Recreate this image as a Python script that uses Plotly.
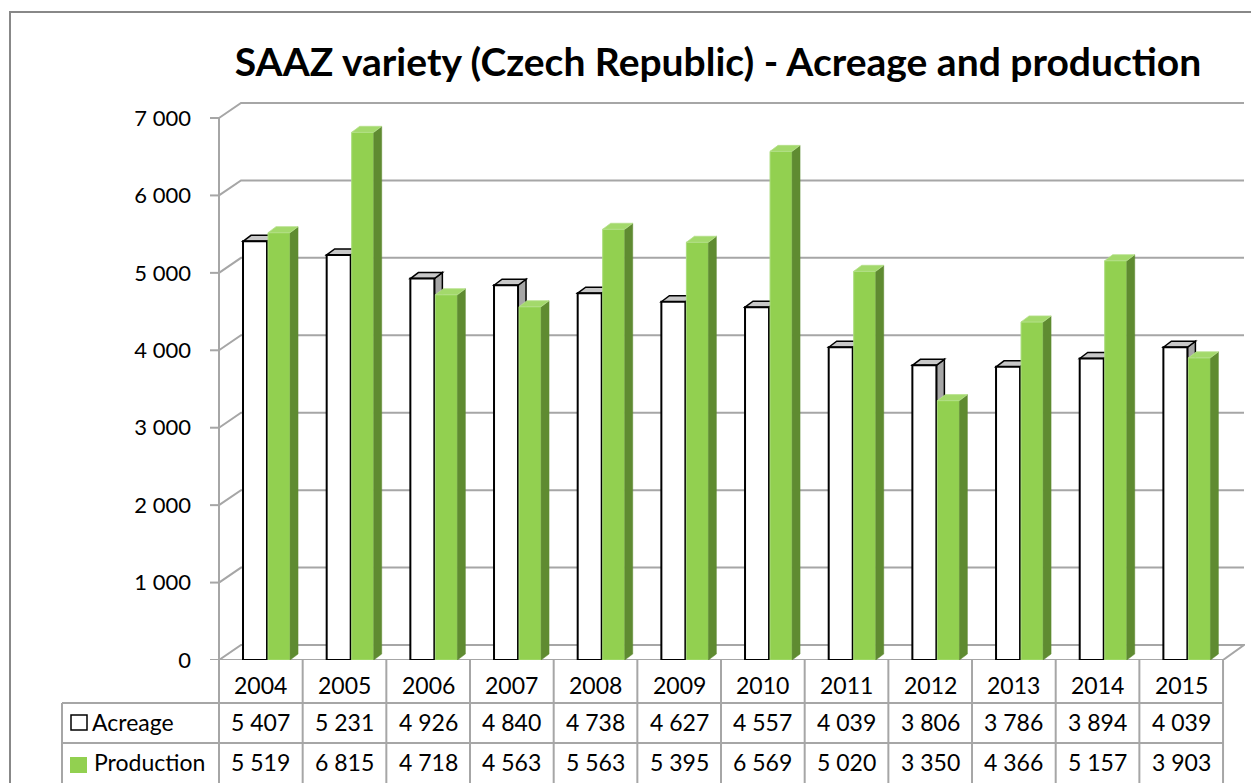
import plotly.graph_objects as go

# ---------------- data ----------------
years = ["2004", "2005", "2006", "2007", "2008", "2009",
         "2010", "2011", "2012", "2013", "2014", "2015"]
acreage = [5407, 5231, 4926, 4840, 4738, 4627, 4557, 4039, 3806, 3786, 3894, 4039]
production = [5519, 6815, 4718, 4563, 5563, 5395, 6569, 5020, 3350, 4366, 5157, 3903]
y_ticks = [0, 1000, 2000, 3000, 4000, 5000, 6000, 7000]
series_names = ["Acreage", "Production"]
title_text = "SAAZ variety (Czech Republic) - Acreage and production"

# ---------------- geometry / style ----------------
W, H = 1251, 783
PL, PR, PT, PB = 205, 1245, 100, 660          # plot area in px
COL = 83.67                                   # px per category
PXY = 542 / 7000                              # px per y unit
XA = -0.5                                     # front axis position (data x)
X0 = XA - (219 - PL) / COL
X1 = X0 + (PR - PL) / COL
Y1 = (PB - PT) / PXY
n = len(years)
X_END = XA + (1244 - 219) / COL


def dxu(p):
    return p / COL


def dyu(p):
    return p / PXY


def xp(px):
    return (px - PL) / (PR - PL)


def yp(py):
    return (PB - py) / (PB - PT)


WDX, WDY = dxu(22), dyu(15)   # wall depth
BDX, BDY = dxu(8), dyu(6)     # bar depth
OA, WA = -0.213, 0.287        # acreage bar offset / width
OP, WP = 0.086, 0.263         # production bar offset / width

GRID = "#a6a6a6"
GREEN = "#92d050"
GREEN_TOP = "#a3d96b"
GREEN_SIDE = "#5f8b31"
FONT = "Lato"

shapes = []

# back wall gridlines
for v in y_ticks[1:]:
    shapes.append(dict(type="path", xref="x", yref="y", layer="below",
                       path=f"M {XA},{v} L {XA + WDX},{v + WDY} L {X_END},{v + WDY}",
                       line=dict(color=GRID, width=2)))
# floor
shapes.append(dict(type="path", xref="x", yref="y", layer="below",
                   path=f"M {XA},0 L {XA + WDX},{WDY} L {X_END},{WDY} L {n - 0.5},0 Z",
                   line=dict(color=GRID, width=2)))
# front vertical axis + ticks
shapes.append(dict(type="line", xref="x", yref="y", layer="below",
                   x0=XA, x1=XA, y0=0, y1=y_ticks[-1], line=dict(color=GRID, width=2)))
for v in y_ticks:
    shapes.append(dict(type="line", xref="x", yref="y", layer="below",
                       x0=XA - dxu(9), x1=XA, y0=v, y1=v, line=dict(color=GRID, width=2)))

# acreage 3D faces (behind the fronts)
for i, a in enumerate(acreage):
    x0 = i + OA
    x1 = x0 + WA
    shapes.append(dict(type="path", xref="x", yref="y", layer="below",
                       path=f"M {x1},0 L {x1 + BDX},{BDY} L {x1 + BDX},{a + BDY} L {x1},{a} Z",
                       fillcolor="#a6a6a6", line=dict(color="black", width=1.5)))
    shapes.append(dict(type="path", xref="x", yref="y", layer="below",
                       path=f"M {x0},{a} L {x0 + BDX},{a + BDY} L {x1 + BDX},{a + BDY} L {x1},{a} Z",
                       fillcolor="#c8c8c8", line=dict(color="black", width=1.5)))

# production 3D faces
for i, p in enumerate(production):
    x0 = i + OP
    x1 = x0 + WP
    shapes.append(dict(type="path", xref="x", yref="y", layer="above",
                       path=f"M {x1},0 L {x1 + BDX},{BDY} L {x1 + BDX},{p + BDY} L {x1},{p} Z",
                       fillcolor=GREEN_SIDE, line=dict(color=GREEN_SIDE, width=0.5)))
    shapes.append(dict(type="path", xref="x", yref="y", layer="above",
                       path=f"M {x0},{p} L {x0 + BDX},{p + BDY} L {x1 + BDX},{p + BDY} L {x1},{p} Z",
                       fillcolor=GREEN_TOP, line=dict(color="#b5e08a", width=0.8)))

# ---------------- data table ----------------
TCOL = GRID
row_lines = [703, 743]
for ry in row_lines:
    shapes.append(dict(type="line", xref="paper", yref="paper",
                       x0=xp(62), x1=xp(219 + n * COL), y0=yp(ry), y1=yp(ry),
                       line=dict(color=TCOL, width=2)))
for k in range(n + 1):
    xk = xp(219 + k * COL)
    shapes.append(dict(type="line", xref="paper", yref="paper",
                       x0=xk, x1=xk, y0=yp(660), y1=yp(800),
                       line=dict(color=TCOL, width=2)))
shapes.append(dict(type="line", xref="paper", yref="paper",
                   x0=xp(62), x1=xp(62), y0=yp(703), y1=yp(800),
                   line=dict(color=TCOL, width=2)))
# legend keys
shapes.append(dict(type="rect", xref="paper", yref="paper",
                   x0=xp(71), x1=xp(87), y0=yp(715), y1=yp(730),
                   fillcolor="white", line=dict(color="black", width=1.5)))
shapes.append(dict(type="rect", xref="paper", yref="paper",
                   x0=xp(70), x1=xp(87), y0=yp(757), y1=yp(773),
                   fillcolor=GREEN, line=dict(color=GREEN, width=0)))
# outer chart border
shapes.append(dict(type="rect", xref="paper", yref="paper",
                   x0=xp(10), x1=xp(1265), y0=yp(12), y1=yp(800),
                   line=dict(color="#888888", width=2)))


def fmt(v):
    return f"{v:,}".replace(",", " ")


annotations = []
tfont = dict(family=FONT, size=23, color="black")
for i, yr in enumerate(years):
    annotations.append(dict(x=i, y=yp(685), xref="x", yref="paper", text=yr,
                            showarrow=False, font=tfont, xanchor="center", yanchor="middle"))
    annotations.append(dict(x=i, y=yp(722), xref="x", yref="paper", text=fmt(acreage[i]),
                            showarrow=False, font=tfont, xanchor="center", yanchor="middle"))
    annotations.append(dict(x=i, y=yp(762), xref="x", yref="paper", text=fmt(production[i]),
                            showarrow=False, font=tfont, xanchor="center", yanchor="middle"))
annotations.append(dict(x=xp(90), y=yp(722), xref="paper", yref="paper", text=series_names[0],
                        showarrow=False, font=tfont, xanchor="left", yanchor="middle"))
annotations.append(dict(x=xp(92), y=yp(762), xref="paper", yref="paper", text=series_names[1],
                        showarrow=False, font=tfont, xanchor="left", yanchor="middle"))

# ---------------- figure ----------------
fig = go.Figure()
fig.add_trace(go.Bar(x=list(range(n)), y=acreage, name=series_names[0],
                     offset=OA, width=WA,
                     marker=dict(color="white", line=dict(color="black", width=2))))
fig.add_trace(go.Bar(x=list(range(n)), y=production, name=series_names[1],
                     offset=OP, width=WP,
                     marker=dict(color=GREEN, line=dict(color="#a9dc7a", width=1))))

fig.update_layout(
    width=W, height=H, autosize=False,
    margin=dict(l=PL, r=W - PR, t=PT, b=H - PB, pad=0),
    paper_bgcolor="white", plot_bgcolor="white",
    barmode="overlay", showlegend=False,
    separators=", ",
    title=dict(text=f"<b>{title_text}</b>", x=xp(718), xref="paper", xanchor="center",
               y=1 - 62 / H, yref="container", yanchor="middle",
               font=dict(family=FONT, size=39, color="black")),
    xaxis=dict(range=[X0, X1], showgrid=False, zeroline=False, showline=False,
               showticklabels=False, ticks="", fixedrange=True),
    yaxis=dict(range=[0, Y1], showgrid=False, zeroline=False, showline=False,
               tickvals=y_ticks, tickformat=",d", ticks="", ticklabelstandoff=13,
               tickfont=dict(family=FONT, size=22, color="black"), fixedrange=True),
    shapes=shapes, annotations=annotations,
    font=dict(family=FONT),
)

fig.write_html("out.html", config={"displayModeBar": False},
               post_script="document.body.style.margin='0';")
